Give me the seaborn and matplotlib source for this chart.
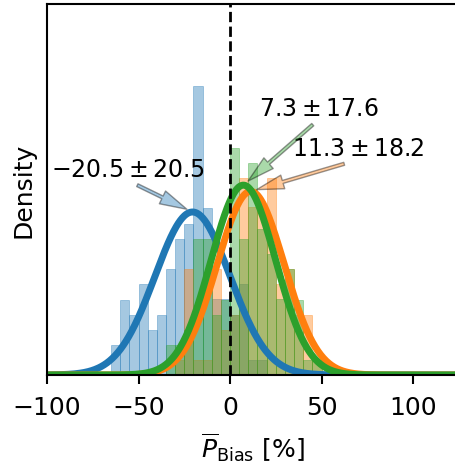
import numpy as np
import pandas as pd
import seaborn as sns
import matplotlib.pyplot as plt
from matplotlib.colors import to_rgba

# histogram bins (width 5 %), densities
bin_edges = np.arange(-65, 60, 5)
bin_centers = bin_edges[:-1] + 2.5

blue_density = [0.0036, 0.0090, 0.0072, 0.0109, 0.0054, 0.0072, 0.0127, 0.0162,
                0.0180, 0.0345, 0.0199, 0.0091, 0.0091, 0.0072, 0.0109, 0.0018,
                0.0018, 0, 0, 0, 0, 0, 0, 0]
orange_density = [0, 0, 0, 0, 0, 0, 0, 0.0018,
                  0.0127, 0.0018, 0.0018, 0.0127, 0.0054, 0.0072, 0.0235, 0.0200,
                  0.0199, 0.0235, 0.0109, 0.0127, 0.0072, 0.0072, 0.0018, 0]
green_density = [0, 0, 0, 0, 0, 0, 0.0036, 0.0036,
                 0.0054, 0.0162, 0.0162, 0.0072, 0.0090, 0.0271, 0.0162, 0.0253,
                 0.0174, 0.0145, 0.0091, 0.0127, 0.0090, 0.0018, 0.0018, 0]

means = [-20.5, 11.3, 7.3]
stds = [20.5, 18.2, 17.6]
colors = ['C0', 'C1', 'C2']
labels = [r'$-20.5 \pm 20.5$', r'$11.3 \pm 18.2$', r'$7.3 \pm 17.6$']
text_x = [-55.7, 69.9, 48.4]
text_y = [0.0232, 0.0257, 0.0305]

sns.set_style('ticks')
plt.rcParams['font.family'] = ['DejaVu Sans']
plt.rcParams['mathtext.fontset'] = 'dejavusans'
for key in ['text.color', 'axes.labelcolor', 'xtick.color', 'ytick.color', 'axes.edgecolor']:
    plt.rcParams[key] = 'black'

fig = plt.figure(figsize=(4.56, 4.64), dpi=100)
ax = fig.add_axes([0.1031, 0.1897, 0.903, 0.7996])

for dens, c in zip([blue_density, orange_density, green_density], colors):
    df = pd.DataFrame({'bias': bin_centers, 'dens': dens})
    sns.histplot(data=df, x='bias', weights='dens', binwidth=5, binrange=(-65, 55),
                 stat='count', color=c, alpha=0.4, edgecolor=to_rgba(c, 0.35),
                 linewidth=0.7, ax=ax)

# fitted normal curves
xs = np.linspace(-100, 125, 600)
for m, s, c in zip(means, stds, colors):
    pdf = np.exp(-0.5 * ((xs - m) / s) ** 2) / (s * np.sqrt(2 * np.pi))
    sns.lineplot(x=xs, y=pdf, color=c, lw=5, ax=ax)

ax.axvline(0, color='k', ls='--', lw=2)

for m, s, c, lab, tx, ty in zip(means, stds, colors, labels, text_x, text_y):
    peak = 1 / (s * np.sqrt(2 * np.pi))
    ax.annotate(lab, xy=(m, peak), xytext=(tx, ty), ha='center', va='bottom',
                fontsize=17,
                arrowprops=dict(arrowstyle='simple,head_length=1.15,head_width=0.6,tail_width=0.13',
                                fc=c, ec='k', alpha=0.4, relpos=(0.5, 0),
                                shrinkA=2, shrinkB=4.5))

ax.set_xlim(-100, 125)
ax.set_ylim(0, 0.0443)
ax.set_xticks([-100, -50, 0, 50, 100])
ax.set_yticks([])
ax.tick_params(axis='x', labelsize=18, length=6.5, width=1.5, pad=8)
for sp in ax.spines.values():
    sp.set_linewidth(1.5)
ax.spines['right'].set_visible(False)
ax.set_xlabel(r'$\overline{P}_{\mathrm{Bias}}$ [%]', fontsize=18, labelpad=8)
ax.set_ylabel('Density', fontsize=18, labelpad=8)

plt.savefig('out.png', dpi=100)
